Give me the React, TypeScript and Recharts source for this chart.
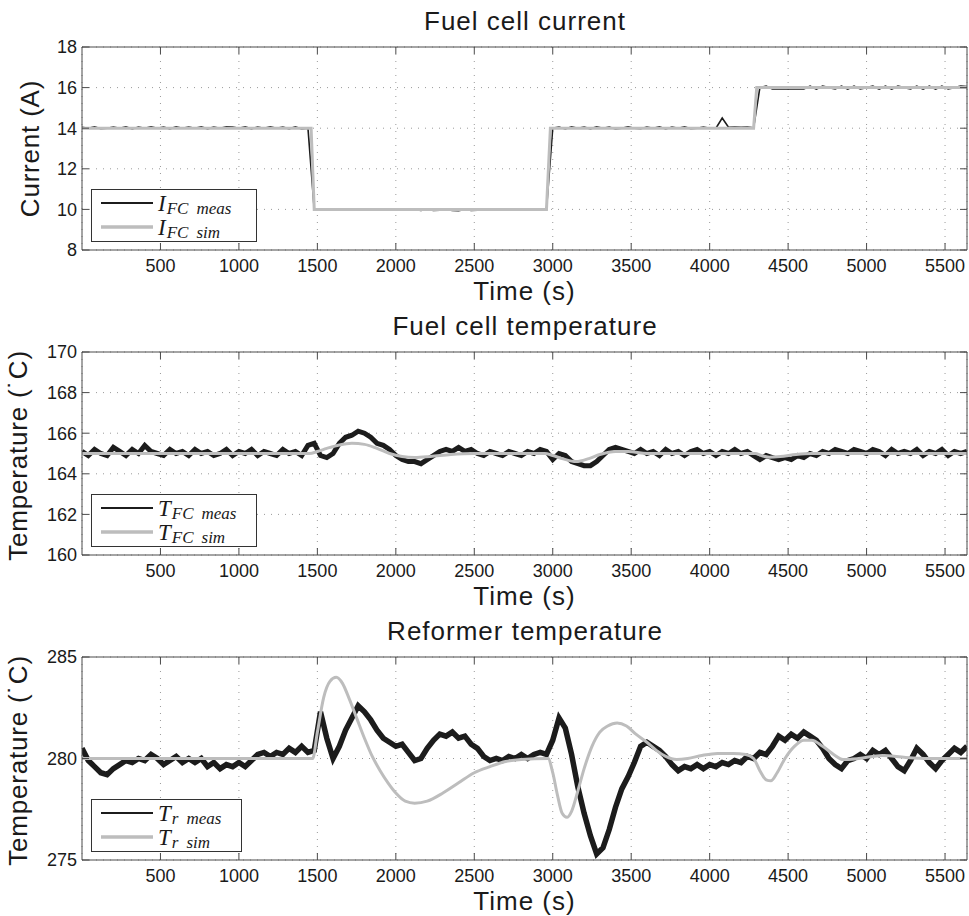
import React from 'react';
import { LineChart, Line, XAxis, YAxis, CartesianGrid, Legend } from 'recharts';

// ---------- data ----------
const T_MAX = 5640;
const STEP = 40; // sampling interval of the plotted measurement (s)
const xTicks = [500, 1000, 1500, 2000, 2500, 3000, 3500, 4000, 4500, 5000, 5500];

const currentTicks = [8, 10, 12, 14, 16, 18];
const fcTempTicks = [160, 162, 164, 166, 168, 170];
const refTempTicks = [275, 280, 285];

// Fuel cell current, measured (every 40 s)
const currentMeas = [
  14.05, 14.0, 14.07, 13.97, 14.0, 14.06, 14.0, 14.07, 13.96, 14.06,
  14.0, 14.07, 14.0, 14.06, 13.97, 14.07, 14.0, 14.06, 14.0, 14.07,
  13.97, 14.06, 14.0, 14.07, 14.06, 14.0, 14.07, 13.97, 14.06, 14.0,
  14.07, 14.0, 14.06, 13.97, 14.07, 13.96, 14.0, 10.0, 10.0, 10.0,
  10.0, 10.0, 10.0, 10.0, 10.0, 10.0, 10.0, 10.0, 10.0, 10.0,
  10.0, 10.0, 10.0, 10.0, 9.95, 10.0, 9.95, 9.96, 10.0, 9.95,
  9.94, 10.0, 9.95, 9.96, 10.0, 10.0, 10.0, 10.0, 10.0, 10.0,
  10.0, 10.0, 10.0, 10.0, 10.0, 14.0, 14.06, 13.96, 14.07, 14.0,
  14.06, 13.97, 14.07, 14.0, 14.06, 13.96, 14.0, 14.07, 14.0, 13.97,
  14.06, 14.0, 14.07, 13.96, 14.06, 14.0, 14.07, 13.97, 14.0, 14.06,
  14.0, 14.0, 14.5, 14.05, 14.06, 14.05, 14.06, 14.02, 16.0, 16.07,
  15.93, 15.93, 15.94, 15.93, 15.95, 15.93, 16.07, 15.93, 16.07, 16.0,
  15.93, 16.07, 15.93, 16.07, 15.93, 16.0, 16.07, 15.93, 16.07, 15.93,
  16.07, 16.0, 15.93, 16.07, 15.93, 16.07, 15.93, 16.07, 15.93, 16.0,
  16.07, 16.05,
];
// Fuel cell current, simulated
const currentSimT = [0, 1460, 1480, 2960, 2985, 4280, 4300, 5640];
const currentSimV = [14, 14, 10, 10, 14, 14, 16, 16];

// Fuel cell temperature, measured (every 40 s)
const fcTempMeas = [
  165.1, 164.9, 165.2, 165.0, 164.9, 165.3, 165.1, 164.9, 165.2, 165.0,
  165.4, 165.1, 165.0, 164.9, 165.2, 165.0, 165.1, 164.9, 165.2, 165.0,
  165.1, 164.9, 165.0, 165.2, 164.9, 165.1, 165.0, 165.2, 164.9, 165.1,
  165.0, 164.9, 165.2, 165.0, 165.1, 164.9, 165.4, 165.5, 164.9, 164.8,
  165.0, 165.5, 165.8, 165.9, 166.1, 166.0, 165.8, 165.5, 165.4, 165.2,
  164.9, 164.7, 164.6, 164.6, 164.5, 164.7, 164.9, 165.1, 165.2, 165.1,
  165.3, 165.1, 165.2, 165.0, 164.9, 165.1, 165.0, 164.9, 165.1, 165.0,
  164.9, 165.1, 165.0, 165.2, 165.1, 164.7, 165.0, 164.9, 164.6, 164.5,
  164.4, 164.4, 164.6, 164.9, 165.2, 165.3, 165.2, 165.1, 165.0, 165.2,
  165.0, 165.1, 164.9, 165.2, 165.0, 165.1, 164.9, 165.1, 165.2, 165.0,
  165.1, 164.9, 165.1, 165.0, 165.2, 165.0, 165.1, 164.9, 164.7, 164.9,
  164.8, 164.7, 164.8, 164.7, 164.9, 164.8, 165.0, 164.9, 165.1, 165.0,
  165.2, 165.1, 165.0, 165.2, 165.1, 165.0, 165.2, 165.1, 164.9, 165.2,
  165.0, 165.1, 165.0, 165.2, 164.9, 165.1, 165.0, 165.2, 164.9, 165.1,
  165.0, 165.1,
];
// Fuel cell temperature, simulated
const fcTempSimT = [0, 1450, 1500, 1560, 1640, 1720, 1800, 1880, 1960, 2040, 2120, 2220, 2350, 2500, 2950, 3000, 3060, 3150, 3230, 3300, 3400, 3480, 3600, 4290, 4330, 4380, 4450, 4550, 4650, 5640];
const fcTempSimV = [165, 165, 165.1, 165.25, 165.42, 165.5, 165.45, 165.25, 165.0, 164.85, 164.8, 164.85, 164.95, 165.0, 165.0, 164.9, 164.75, 164.6, 164.75, 164.95, 165.1, 165.1, 165.0, 165.0, 164.9, 164.82, 164.85, 164.95, 165.0, 165.0];

// Reformer temperature, measured (every 40 s)
const refTempMeas = [
  280.5, 279.9, 279.6, 279.3, 279.2, 279.5, 279.7, 279.9, 279.8, 280.0,
  279.9, 280.2, 280.0, 279.7, 279.9, 280.1, 279.8, 280.0, 279.8, 280.0,
  279.6, 279.8, 279.5, 279.7, 279.6, 279.8, 279.6, 279.9, 280.2, 280.3,
  280.1, 280.3, 280.2, 280.5, 280.3, 280.6, 280.3, 280.4, 282.3, 281.0,
  280.0, 280.6, 281.4, 282.0, 282.6, 282.3, 281.9, 281.4, 281.0, 280.8,
  280.6, 280.7, 280.3, 279.9, 280.0, 280.5, 280.9, 281.2, 281.1, 281.3,
  281.0, 281.1, 280.7, 280.5, 280.1, 279.9, 280.0, 279.9, 280.1, 280.0,
  280.2, 280.0, 280.2, 280.3, 280.2, 280.9, 282.0, 281.5, 280.2, 278.6,
  277.3, 276.2, 275.3, 275.6, 276.5, 277.6, 278.5, 279.1, 279.8, 280.6,
  280.8, 280.6, 280.4, 280.1, 279.7, 279.4, 279.6, 279.5, 279.7, 279.5,
  279.7, 279.6, 279.8, 279.7, 279.9, 279.8, 280.1, 280.0, 280.3, 280.2,
  280.6, 281.1, 280.9, 281.2, 281.0, 281.3, 281.1, 280.9, 280.5, 280.0,
  279.7, 279.5, 279.9, 280.0, 280.2, 280.0, 280.4, 280.2, 280.4, 280.0,
  279.6, 279.4, 279.9, 280.5, 280.2, 279.8, 279.5, 279.9, 280.2, 280.5,
  280.3, 280.6,
];
// Reformer temperature, simulated
const refTempSimT = [0, 1470, 1500, 1540, 1580, 1620, 1660, 1700, 1750, 1800, 1850, 1900, 1950, 2000, 2060, 2120, 2200, 2300, 2400, 2500, 2600, 2700, 2800, 2970, 3000, 3030, 3060, 3090, 3120, 3160, 3200, 3250, 3300, 3350, 3410, 3470, 3530, 3600, 3660, 3720, 3790, 3860, 3950, 4050, 4150, 4230, 4280, 4320, 4360, 4390, 4430, 4480, 4540, 4600, 4650, 4720, 4790, 4850, 4950, 5100, 5250, 5400, 5640];
const refTempSimV = [280, 280, 281.3, 283.0, 283.8, 284.0, 283.7, 283.0, 282.0, 281.0, 280.1, 279.4, 278.8, 278.3, 277.9, 277.8, 277.9, 278.3, 278.8, 279.3, 279.6, 279.85, 279.95, 280.0, 279.3, 278.2, 277.3, 277.1, 277.4, 278.4, 279.5, 280.6, 281.3, 281.6, 281.75, 281.6, 281.2, 280.8, 280.4, 280.1, 279.95, 280.0, 280.15, 280.25, 280.25, 280.2, 280.0, 279.4, 278.95, 278.9, 279.3, 280.0, 280.6, 280.9, 280.9, 280.6, 280.2, 279.95, 280.0, 280.15, 280.05, 280.0, 280.0];

// legend labels: [symbol, subscript, qualifier]
const legendCurrentMeas = ['I', 'FC', 'meas'];
const legendCurrentSim = ['I', 'FC', 'sim'];
const legendFcMeas = ['T', 'FC', 'meas'];
const legendFcSim = ['T', 'FC', 'sim'];
const legendRefMeas = ['T', 'r', 'meas'];
const legendRefSim = ['T', 'r', 'sim'];

// ---------- helpers ----------
const sampled = (vals: number[]) => vals.map((v, i) => ({ t: i * STEP, v }));
const paired = (ts: number[], vs: number[]) => ts.map((t, i) => ({ t, v: vs[i] }));

const MEAS_COLOR = '#1c1c1c';
const SIM_COLOR = '#bdbdbd';
const AXIS_COLOR = '#4a4a4a';
const TEXT_COLOR = '#1a1a1a';
const FONT = '"Liberation Sans", Arial, Helvetica, sans-serif';
const MATH_FONT = '"Liberation Serif", "DejaVu Serif", serif';

function MathLabel({ x, y, parts }: { x: number; y: number; parts: string[] }) {
  return (
    <text x={x} y={y} fontFamily={MATH_FONT} fontStyle="italic" fill={TEXT_COLOR} fontSize={23}>
      {parts[0]}
      <tspan fontSize={17} dy={3} dx={1}>{parts[1]}</tspan>
      <tspan fontSize={17} dx={8}>{parts[2]}</tspan>
    </text>
  );
}

function makeLegend(rows: { parts: string[]; color: string; w: number }[], boxW: number) {
  return () => (
    <svg width={boxW} height={53} style={{ display: 'block' }}>
      <rect x={0.5} y={0.5} width={boxW - 1} height={52} fill="#fff" stroke="#333" strokeWidth={1} />
      {rows.map((r, i) => (
        <g key={i}>
          <line x1={10} x2={62} y1={14 + i * 24} y2={14 + i * 24} stroke={r.color} strokeWidth={r.w} />
          <MathLabel x={67} y={22 + i * 23.5} parts={r.parts} />
        </g>
      ))}
    </svg>
  );
}

type PanelProps = {
  top: number;
  title: string;
  yLabel: string;
  yLabelX: number;
  yLabelShift: number;
  domain: [number, number];
  ticks: number[];
  meas: { t: number; v: number }[];
  sim: { t: number; v: number }[];
  simCurve: 'linear' | 'monotone';
  measWidth: number;
  legend: () => React.ReactElement;
};

function Panel(p: PanelProps) {
  const xLabelContent = (props: any) => {
    const vb = props.viewBox;
    return (
      <text x={vb.x + vb.width / 2} y={vb.y + 50} textAnchor="middle" fontSize={26} letterSpacing={1} fill={TEXT_COLOR} fontFamily={FONT}>
        Time (s)
      </text>
    );
  };
  const yLabelContent = (props: any) => {
    const vb = props.viewBox;
    const cy = vb.y + vb.height / 2 + p.yLabelShift;
    return (
      <text x={p.yLabelX} y={cy} transform={`rotate(-90 ${p.yLabelX} ${cy})`} textAnchor="middle" fontSize={26} letterSpacing={0.8} fill={TEXT_COLOR} fontFamily={FONT}>
        {p.yLabel}
      </text>
    );
  };
  return (
    <div style={{ position: 'absolute', left: 0, top: p.top, width: 969, height: 305 }}>
      <div
        style={{
          position: 'absolute',
          left: 82,
          width: 886,
          top: 6,
          textAlign: 'center',
          fontSize: 26,
          letterSpacing: 1,
          lineHeight: '30px',
          color: TEXT_COLOR,
          fontFamily: FONT,
          zIndex: 2,
        }}
      >
        {p.title}
      </div>
      <LineChart width={969} height={305} margin={{ top: 46, right: 1, bottom: 25, left: 42 }}>
        <CartesianGrid stroke="#9a9a9a" strokeDasharray="1 6" />
        <XAxis
          dataKey="t"
          type="number"
          domain={[0, T_MAX]}
          ticks={xTicks}
          interval={0}
          allowDataOverflow
          height={30}
          tickSize={-7}
          tickMargin={16}
          stroke={AXIS_COLOR}
          tick={{ fill: TEXT_COLOR, fontSize: 18 }}
          label={xLabelContent}
        />
        <XAxis
          xAxisId="top"
          orientation="top"
          dataKey="t"
          type="number"
          domain={[0, T_MAX]}
          ticks={xTicks}
          interval={0}
          allowDataOverflow
          height={1}
          tickSize={-7}
          tickFormatter={() => ''}
          stroke={AXIS_COLOR}
        />
        <YAxis
          type="number"
          domain={p.domain}
          ticks={p.ticks}
          interval={0}
          allowDataOverflow
          width={40}
          tickSize={-7}
          tickMargin={12}
          stroke={AXIS_COLOR}
          tick={{ fill: TEXT_COLOR, fontSize: 18 }}
          label={yLabelContent}
        />
        <YAxis
          yAxisId="right"
          orientation="right"
          type="number"
          domain={p.domain}
          ticks={p.ticks}
          interval={0}
          allowDataOverflow
          width={1}
          tickSize={-7}
          tickFormatter={() => ''}
          stroke={AXIS_COLOR}
        />
        <Legend
          layout="vertical"
          align="center"
          verticalAlign="middle"
          content={p.legend}
          wrapperStyle={{ left: 91, top: 189, width: 'auto', height: 'auto' }}
        />
        <Line data={p.meas} dataKey="v" type="linear" stroke={MEAS_COLOR} strokeWidth={p.measWidth} dot={false} isAnimationActive={false} />
        <Line data={p.sim} dataKey="v" type={p.simCurve} stroke={SIM_COLOR} strokeWidth={3} dot={false} isAnimationActive={false} />
      </LineChart>
    </div>
  );
}

export default function App() {
  return (
    <div style={{ position: 'absolute', left: 0, top: 0, width: 969, height: 916, background: '#fff', fontFamily: FONT }}>
      <Panel
        top={0}
        title="Fuel cell current"
        yLabel="Current (A)"
        yLabelX={39}
        yLabelShift={0}
        domain={[8, 18]}
        ticks={currentTicks}
        meas={sampled(currentMeas)}
        sim={paired(currentSimT, currentSimV)}
        simCurve="linear"
        measWidth={1.6}
        legend={makeLegend([
          { parts: legendCurrentMeas, color: MEAS_COLOR, w: 2 },
          { parts: legendCurrentSim, color: SIM_COLOR, w: 3.5 },
        ], 166)}
      />
      <Panel
        top={305}
        title="Fuel cell temperature"
        yLabel={'Temperature (\u02D9C)'}
        yLabelX={27}
        yLabelShift={2}
        domain={[160, 170]}
        ticks={fcTempTicks}
        meas={sampled(fcTempMeas)}
        sim={paired(fcTempSimT, fcTempSimV)}
        simCurve="monotone"
        measWidth={5}
        legend={makeLegend([
          { parts: legendFcMeas, color: MEAS_COLOR, w: 2 },
          { parts: legendFcSim, color: SIM_COLOR, w: 3.5 },
        ], 166)}
      />
      <Panel
        top={610}
        title="Reformer temperature"
        yLabel={'Temperature (\u02D9C)'}
        yLabelX={27}
        yLabelShift={2}
        domain={[275, 285]}
        ticks={refTempTicks}
        meas={sampled(refTempMeas)}
        sim={paired(refTempSimT, refTempSimV)}
        simCurve="monotone"
        measWidth={5.5}
        legend={makeLegend([
          { parts: legendRefMeas, color: MEAS_COLOR, w: 2 },
          { parts: legendRefSim, color: SIM_COLOR, w: 3.5 },
        ], 151)}
      />
    </div>
  );
}
